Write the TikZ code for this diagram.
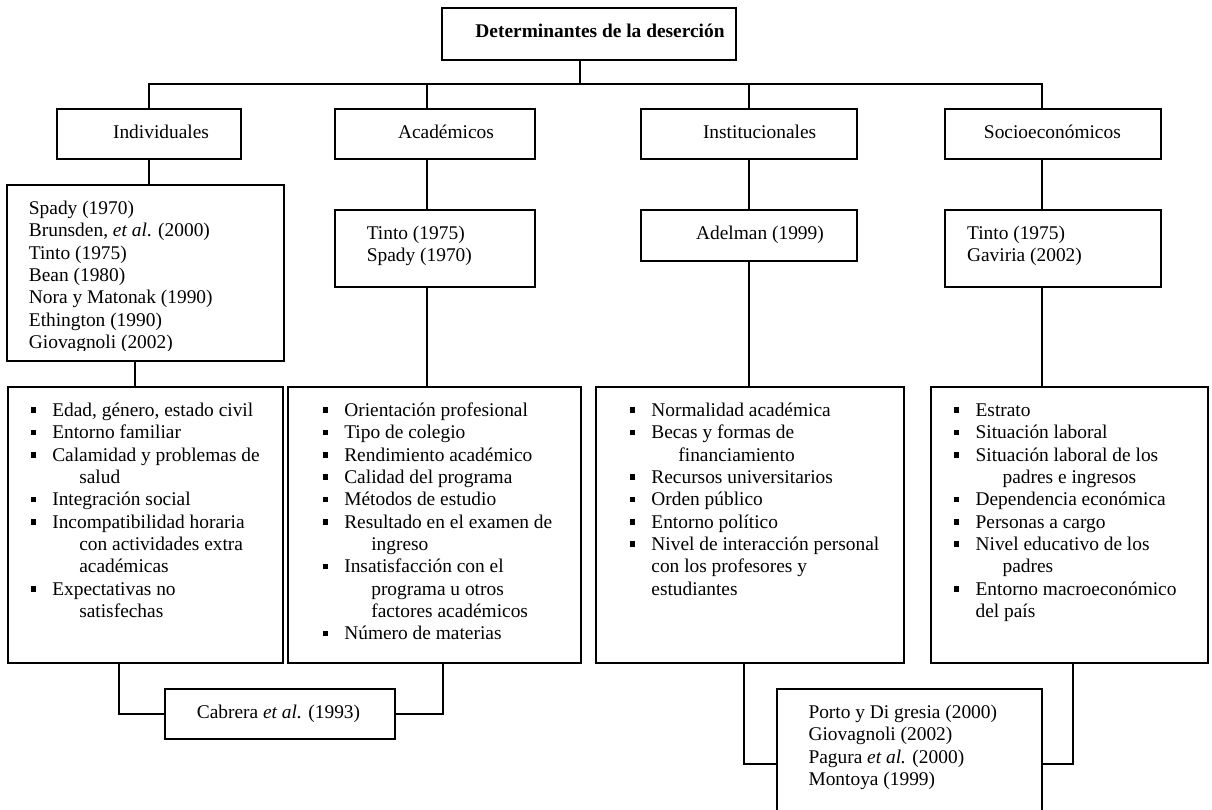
\documentclass[tikz,border=0pt]{standalone}
\usepackage{fontspec}
\setmainfont{Liberation Serif}
\usetikzlibrary{fit}
\tikzset{
  box/.style={draw, line width=2pt, inner sep=0pt},
  conn/.style={draw, line width=1.8pt},
  txt/.style={inner sep=0pt, anchor=base west, font=\fontsize{19.4pt}{22.33pt}\selectfont},
  ctxt/.style={inner sep=0pt, anchor=base, font=\fontsize{19.4pt}{22.33pt}\selectfont},
}
\newcommand\blt{\makebox[21.5pt][l]{\raisebox{3.6pt}{\rule{5pt}{5.5pt}}}}
\newcommand\cnt{\hspace*{48.5pt}}
\newcommand\txtind{\hspace*{21.5pt}}
\newcommand\lines[1]{\parbox[t]{330pt}{#1}}
\begin{document}
\begin{tikzpicture}[x=1pt,y=-1pt]
\useasboundingbox (0,0) rectangle (1212,810);
% boxes
\node[box, fit={(442,8) (736,60)}] (top) {};
\node[box, fit={(57,109) (241,159)}] (ind) {};
\node[box, fit={(335,109) (535,159)}] (aca) {};
\node[box, fit={(641,109) (857,159)}] (ins) {};
\node[box, fit={(945,109) (1161,159)}] (soc) {};
\node[box, fit={(6.7,185) (284,361)}] (spa) {};
\node[box, fit={(335,210) (535,287)}] (tsp) {};
\node[box, fit={(641,210) (857,261)}] (adl) {};
\node[box, fit={(945,210) (1161,287)}] (tgv) {};
\node[box, fit={(7.7,387) (283,663)}] (l1) {};
\node[box, fit={(288,387) (581,663)}] (l2) {};
\node[box, fit={(595.5,387) (903.5,663)}] (l3) {};
\node[box, fit={(930.5,387) (1208,663)}] (l4) {};
\node[box, fit={(165,689) (395,739)}] (cab) {};
\node[box, fit={(776.5,689) (1041.6,830)}] (por) {};
% texts
\node[ctxt, font=\fontsize{19.4pt}{22.33pt}\selectfont\bfseries] (ttop) at (600,37.5) {Determinantes de la deserción};
\node[ctxt] (tind) at (161,138.5) {Individuales};
\node[ctxt] (taca) at (446,138.5) {Académicos};
\node[ctxt] (tins) at (759.6,138.5) {Institucionales};
\node[ctxt] (tsoc) at (1052.4,138.5) {Socioeconómicos};
\begin{scope}
\clip (0,0) rectangle (300,350.5);
\node[txt] (tspa) at (28.7,214.5) {\lines{Spady (1970)\\ Brunsden, \textit{et al}. (2000)\\ Tinto (1975)\\ Bean (1980)\\ Nora y Matonak (1990)\\ Ethington (1990)\\ Giovagnoli (2002)}};
\end{scope}
\node[txt] (ttsp) at (366.6,239.5) {\lines{Tinto (1975)\\ Spady (1970)}};
\node[ctxt] (tadl) at (760,239.5) {Adelman (1999)};
\node[txt] (ttgv) at (966.9,239.5) {\lines{Tinto (1975)\\ Gaviria (2002)}};
\node[txt] (tl1) at (30.6,416.5) {\lines{\blt Edad, género, estado civil\\
\blt Entorno familiar\\
\blt Calamidad y problemas de\\
\cnt salud\\
\blt Integración social\\
\blt Incompatibilidad horaria\\
\cnt con actividades extra\\
\cnt académicas\\
\blt Expectativas no\\
\cnt satisfechas}};
\node[txt] (tl2) at (322.6,416.5) {\lines{\blt Orientación profesional\\
\blt Tipo de colegio\\
\blt Rendimiento académico\\
\blt Calidad del programa\\
\blt Métodos de estudio\\
\blt Resultado en el examen de\\
\cnt ingreso\\
\blt Insatisfacción con el\\
\cnt programa u otros\\
\cnt factores académicos\\
\blt Número de materias}};
\node[txt] (tl3) at (629.7,416.5) {\lines{\blt Normalidad académica\\
\blt Becas y formas de\\
\cnt financiamiento\\
\blt Recursos universitarios\\
\blt Orden público\\
\blt Entorno político\\
\blt Nivel de interacción personal\\
\txtind con los profesores y\\
\txtind estudiantes}};
\node[txt] (tl4) at (953.9,416.5) {\lines{\blt Estrato\\
\blt Situación laboral\\
\blt Situación laboral de los\\
\cnt padres e ingresos\\
\blt Dependencia económica\\
\blt Personas a cargo\\
\blt Nivel educativo de los\\
\cnt padres\\
\blt Entorno macroeconómico\\
\txtind del país}};
\node[ctxt] (tcab) at (278.5,718.5) {Cabrera \textit{et al.} (1993)};
\node[txt] (tpor) at (808.3,718.5) {\lines{Porto y Di gresia (2000)\\ Giovagnoli (2002)\\ Pagura \textit{et al.} (2000)\\ Montoya (1999)}};
% connectors
\coordinate (bus) at (0,84);
\coordinate (pjoin) at (0,764);
\draw[conn] ([xshift=-9pt]top.south) -- ([xshift=-9pt]top.south |- bus);
\draw[conn] (ind.north) -- (ind.north |- bus) -- ([xshift=-11pt]soc.north |- bus) -- ([xshift=-11pt]soc.north);
\draw[conn] ([xshift=-8pt]aca.north) -- ([xshift=-8pt]aca.north |- bus);
\draw[conn] (ins.north) -- (ins.north |- bus);
\draw[conn] (ind.south) -- (ind.south |- spa.north);
\draw[conn] ([xshift=-8pt]aca.south) -- ([xshift=-8pt]aca.south |- tsp.north);
\draw[conn] (ins.south) -- (ins.south |- adl.north);
\draw[conn] ([xshift=-11pt]soc.south) -- ([xshift=-11pt]soc.south |- tgv.north);
\draw[conn] ([xshift=-10.35pt]spa.south) -- ([xshift=-10.35pt]spa.south |- l1.north);
\draw[conn] ([xshift=-8pt]tsp.south) -- ([xshift=-8pt]tsp.south |- l2.north);
\draw[conn] (adl.south) -- (adl.south |- l3.north);
\draw[conn] ([xshift=-11pt]tgv.south) -- ([xshift=-11pt]tgv.south |- l4.north);
\draw[conn] ([xshift=-26.35pt]l1.south) |- (cab.west);
\draw[conn] ([xshift=8.5pt]l2.south) |- (cab.east);
\draw[conn] ([xshift=-5.5pt]l3.south) |- (por.west |- pjoin);
\draw[conn] ([xshift=3.75pt]l4.south) |- (por.east |- pjoin);
\end{tikzpicture}
\end{document}
